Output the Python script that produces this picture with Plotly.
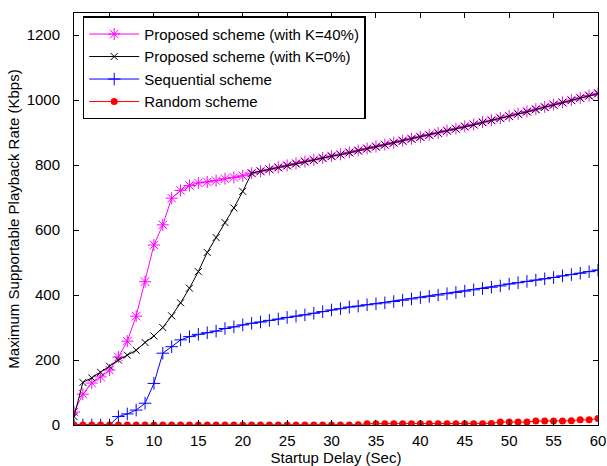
import plotly.graph_objects as go

delay = list(range(1, 61))

k40 = [40, 95, 129, 148, 169, 209, 258, 335, 441, 554, 616, 698, 722, 737, 745, 748, 752, 758, 762, 767,
       775, 781, 787, 793, 799, 805, 811, 816, 822, 828, 833, 839, 845, 851, 857, 863, 869, 875, 881, 887,
       893, 899, 906, 912, 919, 925, 932, 938, 945, 951, 958, 965, 972, 979, 986, 993, 1000, 1007, 1014, 1021]

k0 = [26, 131, 145, 162, 181, 200, 215, 230, 254, 274, 300, 336, 376, 421, 472, 531, 577, 623, 668, 719,
      775, 781, 787, 792, 798, 804, 810, 815, 821, 827, 832, 838, 844, 850, 856, 862, 868, 874, 880, 886,
      892, 898, 905, 911, 918, 924, 931, 937, 944, 950, 957, 964, 971, 978, 985, 992, 999, 1006, 1013, 1020]

sequential = [0, 0, 0, 0, 0, 26, 34, 46, 67, 128, 221, 241, 262, 272, 279, 284, 289, 297, 302, 308,
              313, 317, 322, 326, 331, 335, 339, 344, 349, 354, 358, 363, 366, 370, 373, 376, 380, 384, 388, 392,
              396, 400, 404, 408, 412, 416, 420, 424, 428, 434, 438, 442, 446, 450, 454, 459, 463, 467, 472, 477]

random_s = [0, 0, 0, 0, 0, 0, 0, 0, 0, 0, 0, 0, 0, 0, 0, 0, 0, 0, 0, 0,
            0, 0, 0, 0, 0, 0, 0, 0, 0, 0, 0, 0, 1, 4, 4, 4, 4, 4, 4, 4,
            4, 4, 4, 4, 4, 4, 4, 5, 9, 9, 9, 9, 12, 12, 12, 12, 13, 16, 16, 20]

names = ["Proposed scheme (with K=40%)", "Proposed scheme (with K=0%)",
         "Sequential scheme", "Random scheme"]

x_ticks = list(range(5, 61, 5))
y_ticks = list(range(0, 1201, 200))

FONT = "Liberation Sans, Arial, Helvetica, sans-serif"

fig = go.Figure()
fig.add_trace(go.Scatter(x=delay, y=k40, name=names[0], mode="lines+markers",
                         line=dict(color="#ff00ff", width=1),
                         marker=dict(symbol="asterisk-open", size=10, color="#ff00ff",
                                     line=dict(color="#ff00ff", width=1))))
fig.add_trace(go.Scatter(x=delay, y=k0, name=names[1], mode="lines+markers",
                         line=dict(color="black", width=1),
                         marker=dict(symbol="x-thin-open", size=7, color="black",
                                     line=dict(color="black", width=1))))
fig.add_trace(go.Scatter(x=delay, y=sequential, name=names[2], mode="lines+markers",
                         line=dict(color="#0000ff", width=1),
                         marker=dict(symbol="cross-thin-open", size=9, color="#0000ff",
                                     line=dict(color="#0000ff", width=1))))
fig.add_trace(go.Scatter(x=delay, y=random_s, name=names[3], mode="lines+markers",
                         line=dict(color="#ff0000", width=1),
                         marker=dict(symbol="circle", size=7, color="#ff0000",
                                     line=dict(width=0))))

axis_common = dict(showline=True, linecolor="black", linewidth=1, mirror="ticks",
                   ticks="inside", ticklen=5, tickcolor="black", showgrid=False,
                   zeroline=False, automargin=False,
                   tickfont=dict(family=FONT, size=15, color="black"))

fig.update_layout(
    width=607, height=466,
    margin=dict(l=74, r=9, t=13, b=41),
    paper_bgcolor="white", plot_bgcolor="white",
    font=dict(family=FONT, size=15, color="black"),
    showlegend=True,
    legend=dict(x=0.0166, y=0.992, xanchor="left", yanchor="top",
                bordercolor="black", borderwidth=1.5, bgcolor="white",
                font=dict(family=FONT, size=15, color="black"),
                itemwidth=50, tracegroupgap=0),
    xaxis=dict(range=[1, 60], tickvals=x_ticks, ticklabelstandoff=2,
               title=dict(text="Startup Delay (Sec)", standoff=4,
                          font=dict(family=FONT, size=15, color="black")),
               **axis_common),
    yaxis=dict(range=[0, 1268], tickvals=y_ticks, ticklabelstandoff=10,
               title=dict(text="Maximum Supportable Playback Rate (Kbps)", standoff=3,
                          font=dict(family=FONT, size=15, color="black")),
               **axis_common),
)

fig.write_html("out.html", config={"displayModeBar": False},
               post_script="document.body.style.margin='0px';document.body.style.overflow='hidden';")
